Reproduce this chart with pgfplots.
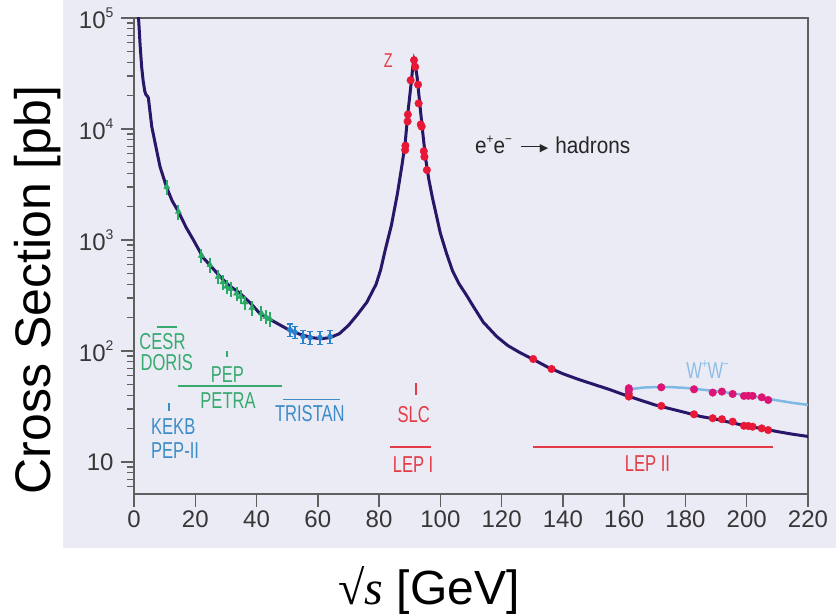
\documentclass[border=0pt]{standalone}
\usepackage{fontspec}
\setmainfont{Liberation Sans}
\newfontfamily\condfont[FakeStretch=0.72]{Liberation Sans}
\newfontfamily\hadfont[FakeStretch=0.9]{Liberation Sans}
\newfontfamily\seriffont{Liberation Serif}
\newfontfamily\dejavu{DejaVu Sans}
\usepackage{pgfplots}
\pgfplotsset{compat=1.18}
\definecolor{lav}{RGB}{235,235,245}
\definecolor{curvec}{RGB}{40,22,105}
\definecolor{axisgray}{RGB}{95,95,95}
\definecolor{ticklab}{RGB}{55,55,55}
\definecolor{greenT}{RGB}{55,170,110}
\definecolor{greenM}{RGB}{40,170,100}
\definecolor{blueT}{RGB}{60,140,200}
\definecolor{blueM}{RGB}{40,130,205}
\definecolor{redT}{RGB}{228,60,70}
\definecolor{redM}{RGB}{232,25,55}
\definecolor{magM}{RGB}{220,20,115}
\definecolor{wwc}{RGB}{125,185,228}
\definecolor{wwT}{RGB}{140,190,230}
\newcommand\sups[2][14bp]{\raisebox{0.45em}{\fontsize{#1}{#1}\selectfont #2}}
\newcommand\annot{\condfont\fontsize{23bp}{26bp}\selectfont}
\newcommand\harrow{\kern9bp\rule[6.5bp]{20bp}{1.4bp}\kern-1bp\raisebox{2.6bp}{\dejavu\fontsize{11bp}{11bp}\selectfont ▶}\kern7bp}
\begin{document}
\begin{tikzpicture}
\fill[lav] (-71bp,-54bp) rectangle (702bp,494bp);
\begin{axis}[
  at={(0,0)}, anchor=south west,
  scale only axis, width=674bp, height=476bp,
  xmin=0, xmax=220, ymin=5.15, ymax=100000,
  ymode=log,
  xtick={0,20,...,220},
  ytick={10,100,1000,10000,100000},
  yticklabels={10,10\sups{2},10\sups{3},10\sups{4},10\sups{5}},
  minor ytick={6,7,8,9,20,30,40,50,60,70,80,90,200,300,400,500,600,700,800,900,2000,3000,4000,5000,6000,7000,8000,9000,20000,30000,40000,50000,60000,70000,80000,90000},
  tick align=outside, tick pos=left,
  major tick length=13bp, minor tick length=7bp,
  axis line style={draw=axisgray, line width=1.5bp},
  every tick/.style={draw=axisgray, line width=1.5bp},
  every minor tick/.style={draw=axisgray, line width=1.2bp},
  tick label style={font=\fontsize{24bp}{28bp}\selectfont, text=ticklab},
  yticklabel style={xshift=-4bp},
  /pgf/number format/assume math mode=true,
]
% main curve
\addplot[curvec, line width=3bp] coordinates {
(1.3,115000)(1.6,88600)(2.0,56700)(2.5,36300)(3.0,27000)(3.5,22000)(3.9,20400)(4.3,19900)(4.7,19000)(5.2,14500)(5.8,10500)(7,7240)(8.5,4570)(10.7,2950)(12.5,2240)(14.5,1800)(17,1300)(19.4,1000)(22.6,692)(25,585)(28.1,468)(31,390)(34.6,331)(38,270)(41,219)(46,182)(50,158)(54,142)(58,132)(61,129)(64,132)(67,143)(70,170)(73,214)(76,275)(79,398)(80.5,537)(82,813)(84,1350)(86,2630)(87.5,4790)(88.5,7410)(89.5,14800)(90.5,26300)(91.0,36300)(91.4,41700)(91.8,38000)(92.4,29500)(93.2,17800)(94.2,9550)(95.2,5370)(96.2,3550)(97.5,2340)(98.8,1620)(100,1150)(102,759)(104,525)(106,407)(108.6,316)(110.8,251)(114,182)(118.4,135)(122,112)(126,96.6)(130.3,84.1)(135,71.6)(140,62.4)(145,55.6)(150,50.1)(155,45.2)(160,40.3)(165,36.3)(170,32.7)(175,30.2)(180,27.9)(185,25.7)(190,24.3)(195,22.6)(200,21.1)(205,20.0)(210,18.8)(215,17.8)(220,17.0)};
% WW curve
\addplot[wwc, line width=2.5bp] coordinates {
(161,39.8)(161.8,43.7)(163,45.7)(166,46.8)(170,47.3)(175,47.3)(180,46.5)(185,45.0)(190,43.5)(195,41.7)(200,39.8)(205,37.9)(210,35.9)(215,34.1)(220,32.7)};
% experiment bars
\addplot[greenT, line width=1.5bp] coordinates {(7.4,164)(13.9,164)};
\addplot[greenT, line width=1.5bp] coordinates {(30.3,100)(30.3,89)};
\addplot[greenT, line width=1.5bp] coordinates {(14.5,48.4)(48.2,48.4)};
\addplot[blueT, line width=1.5bp] coordinates {(48.5,36.7)(67.2,36.7)};
\addplot[blueT, line width=1.5bp] coordinates {(11.4,33.8)(11.4,29)};
\addplot[redT, line width=1.5bp] coordinates {(92.0,51.2)(92.0,40.2)};
\addplot[redT, line width=1.5bp] coordinates {(83.6,13.7)(96.8,13.7)};
\addplot[redT, line width=1.5bp] coordinates {(130.3,13.7)(208.7,13.7)};
% low energy data
\addplot[only marks, mark=triangle*, mark size=3.6bp, color=greenM,
  error bars/.cd, y dir=both, y fixed relative=0.15, error mark=none,
  error bar style={line width=2bp, greenM}] coordinates {
(10.7,3020)(14.5,1800)(22.0,724)(24.8,596)(27.5,468)(29.0,417)(30.2,380)(31.5,363)(33.5,331)(34.8,309)(36.2,275)(38.5,245)(41.6,219)(43.0,204)(44.3,195)};
\addplot[only marks, mark=*, mark size=2.6bp, color=blueM,
  error bars/.cd, y dir=both, y fixed relative=0.13,
  error mark options={rotate=90, mark size=3bp, line width=1.2bp, blueM},
  error bar style={line width=1.8bp, blueM}] coordinates {
(50.9,155)(52.5,148)(55.2,135)(57.5,132)(60.7,132)(64.0,135)};
% Z peak
\addplot[only marks, mark=*, mark size=3.8bp, color=redM] coordinates {
(88.5,6460)(88.6,7080)(89.4,13500)(89.3,11700)(90.3,27500)(91.4,41700)(91.8,36300)(92.7,25100)(92.9,17000)(93.6,11000)(93.9,10500)(94.6,6310)(94.8,5620)(95.6,4270)};
% LEP II
\addplot[only marks, mark=*, mark size=3.8bp, color=redM] coordinates {
(130.3,84.7)(136.3,68.9)(161.5,41.2)(161.5,38.9)(172.1,32.0)(182.8,26.9)(188.9,24.8)(191.9,24.3)(195.4,23.1)(199.1,21.2)(200.5,21.1)(201.9,20.8)(204.9,20.1)(207.0,19.4)};
\addplot[only marks, mark=*, mark size=3.8bp, color=magM] coordinates {
(161.5,46.2)(161.5,44.2)(172.1,47.1)(182.8,45.2)(188.9,42.2)(191.9,43.1)(195.4,41.0)(199.1,39.4)(200.5,39.5)(201.9,39.4)(204.9,38.3)(207.0,36.2)};
% labels
\node[text=greenT, font=\annot, inner sep=0pt] at (axis cs:9.3,122) {CESR};
\node[text=greenT, font=\annot, inner sep=0pt] at (axis cs:10.7,79) {DORIS};
\node[text=greenT, font=\annot, inner sep=0pt] at (axis cs:30.5,60.8) {PEP};
\node[text=greenT, font=\annot, inner sep=0pt] at (axis cs:30.7,35.7) {PETRA};
\node[text=blueT, font=\annot, inner sep=0pt] at (axis cs:57.4,27.1) {TRISTAN};
\node[text=blueT, font=\annot, inner sep=0pt] at (axis cs:12.8,20.8) {KEKB};
\node[text=blueT, font=\annot, inner sep=0pt] at (axis cs:13.4,12.8) {PEP-II};
\node[text=redT, font=\annot, inner sep=0pt] at (axis cs:91.3,26.5) {SLC};
\node[text=redT, font=\annot, inner sep=0pt] at (axis cs:91.1,9.4) {LEP I};
\node[text=redT, font=\annot, inner sep=0pt] at (axis cs:167.6,9.7) {LEP II};
\node[text=wwT, font=\annot, inner sep=0pt] at (axis cs:187.2,67.5) {W\sups[13bp]{+}W\sups[13bp]{−}};
\node[text=redT, font=\condfont\fontsize{20bp}{22bp}\selectfont, inner sep=0pt] at (axis cs:83,41700) {Z};
\node[anchor=west, inner sep=0pt, text=black!85, font=\hadfont\fontsize{23bp}{26bp}\selectfont] at (axis cs:111.3,7180)
  {e\sups[13bp]{+}e\sups[13bp]{−}\harrow hadrons};
\end{axis}
\node[rotate=90, font=\fontsize{50bp}{56bp}\selectfont] at (-96bp,204bp) {Cross Section [pb]};
\node[anchor=base, font=\fontsize{48bp}{54bp}\selectfont] at (295bp,-110bp) {{\seriffont √\textit{s}} [GeV]};
\pgfresetboundingbox
\path[use as bounding box] (-134bp,-122bp) rectangle (702bp,494bp);
\end{tikzpicture}
\end{document}
